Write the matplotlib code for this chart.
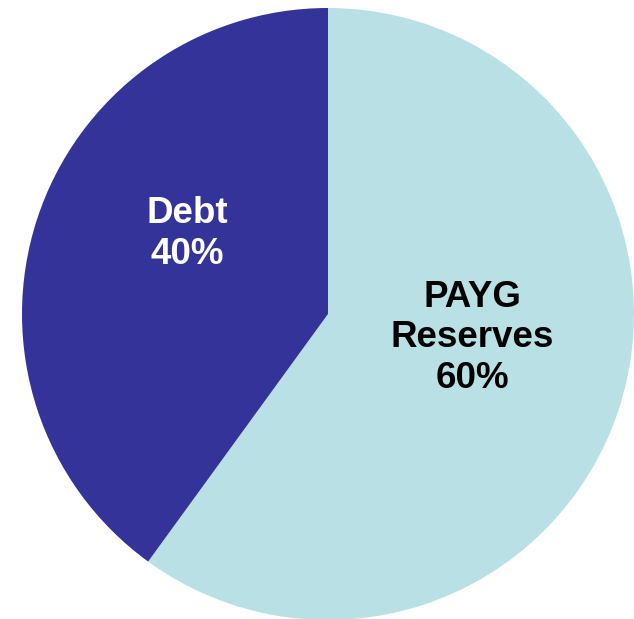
import matplotlib.pyplot as plt

labels = ['PAYG\nReserves\n60%', 'Debt\n40%']
shares = [60, 40]
colors = ['#B9E0E4', '#333399']
text_colors = ['black', 'white']

plt.rcParams['font.family'] = ['Liberation Sans', 'DejaVu Sans']

fig = plt.figure(figsize=(6.34, 6.19), dpi=100)
ax = fig.add_axes([22/634, -1/619, 612/634, 612/619])
wedges, _ = ax.pie(shares, colors=colors, startangle=90, counterclock=False,
                   radius=1.0)
ax.set_xlim(-1, 1)
ax.set_ylim(-1, 1)
ax.set_aspect('equal')

pos = [(0.471, -0.078), (-0.461, 0.262)]
for (x, y), lab, tc in zip(pos, labels, text_colors):
    ax.text(x, y, lab, ha='center', va='center', fontsize=26.5,
            fontweight='bold', color=tc, linespacing=1.2)

fig.savefig('out.png', dpi=100)
